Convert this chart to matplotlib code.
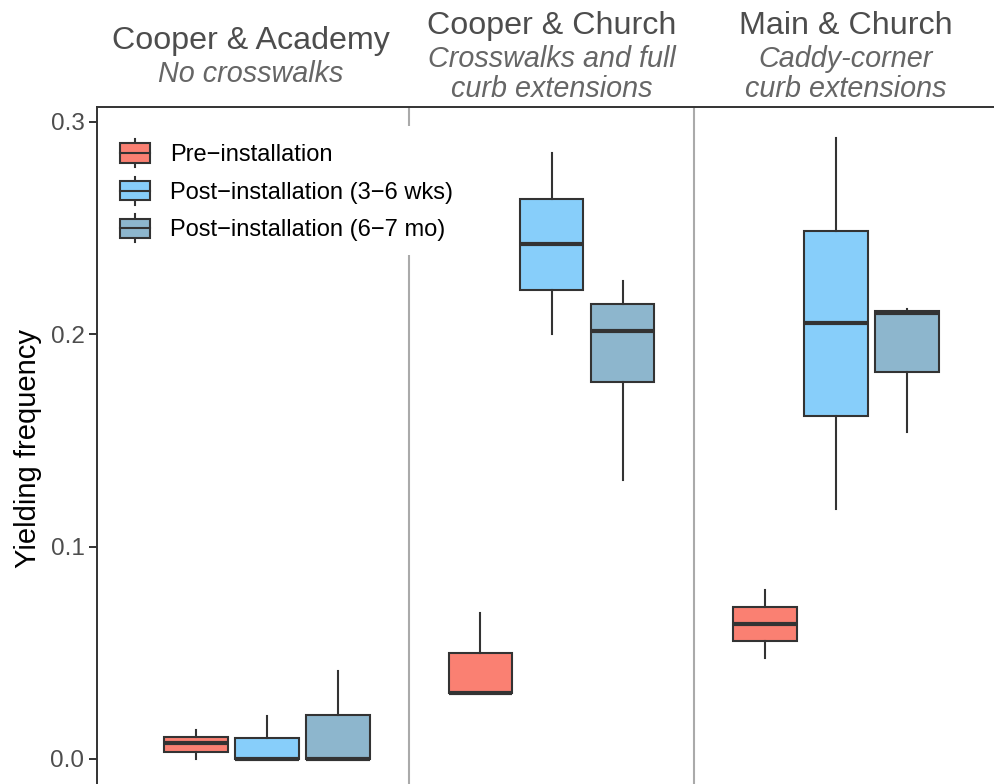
import matplotlib
matplotlib.use("Agg")
import matplotlib.pyplot as plt
from matplotlib.patches import Patch, Rectangle
from matplotlib.lines import Line2D
from matplotlib.legend_handler import HandlerBase

plt.rcParams['font.family'] = ['Liberation Sans', 'DejaVu Sans']

# ---------------- data ----------------
sites = ["Cooper & Academy", "Cooper & Church", "Main & Church"]
subtitles = ["No crosswalks", "Crosswalks and full\ncurb extensions", "Caddy-corner\ncurb extensions"]
phases = ["Pre\u2212installation", "Post\u2212installation (3\u22126 wks)", "Post\u2212installation (6\u22127 mo)"]
phase_colors = ["#FA8072", "#87CEFA", "#8DB6CD"]

# five-number summaries, order: site-major, phase-minor
whisker_low  = [0.0000, 0.0000, 0.0000,   0.0309, 0.2000, 0.1314,   0.0474, 0.1176, 0.1539]
quart_1      = [0.0032, 0.0000, 0.0000,   0.0309, 0.2209, 0.1776,   0.0554, 0.1614, 0.1820]
median       = [0.0074, 0.0000, 0.0000,   0.0309, 0.2426, 0.2017,   0.0636, 0.2052, 0.2102]
quart_3      = [0.0105, 0.0100, 0.0207,   0.0501, 0.2639, 0.2142,   0.0717, 0.2488, 0.2110]
whisker_high = [0.0137, 0.0203, 0.0415,   0.0686, 0.2853, 0.2252,   0.0796, 0.2924, 0.2118]

yticks = [0.0, 0.1, 0.2, 0.3]
ytick_labels = ["0.0", "0.1", "0.2", "0.3"]

# ---------------- style ----------------
EDGE = "#333333"
W, H = 995, 784
fig = plt.figure(figsize=(W / 100, H / 100), dpi=100)
ax_left, ax_right, ax_top, ax_bottom = 97, 1006, 107, 790
ax = fig.add_axes([ax_left / W, 1 - ax_bottom / H, (ax_right - ax_left) / W, (ax_bottom - ax_top) / H])

dodge = 0.25
box_w = 0.225
for i in range(len(sites)):
    for j in range(len(phases)):
        k = i * len(phases) + j
        stats = [dict(whislo=whisker_low[k], q1=quart_1[k], med=median[k],
                      q3=quart_3[k], whishi=whisker_high[k], fliers=[])]
        ax.bxp(stats, positions=[i + (j - 1) * dodge], widths=box_w,
               patch_artist=True, showcaps=False, showfliers=False,
               manage_ticks=False,
               boxprops=dict(facecolor=phase_colors[j], edgecolor=EDGE, linewidth=1.5),
               medianprops=dict(color=EDGE, linewidth=3.0, solid_capstyle='butt'),
               whiskerprops=dict(color=EDGE, linewidth=1.5))

for xs in [0.5, 1.5]:
    ax.axvline(xs, color="#AAAAAA", lw=1.5, zorder=0)

ax.set_xlim(-0.6, 2.6)
ax.set_ylim(-0.0146, 0.307)
ax.set_xticks([])
ax.set_yticks(yticks)
ax.set_yticklabels(ytick_labels)
ax.tick_params(axis='y', length=6, width=1.4, color=EDGE, labelcolor="#4D4D4D",
               labelsize=17.5, pad=3)
for s in ["right", "bottom"]:
    ax.spines[s].set_visible(False)
for s in ["top", "left"]:
    ax.spines[s].set_color(EDGE)
    ax.spines[s].set_linewidth(1.4)
ax.set_ylabel("Yielding frequency", fontsize=21, color="black", labelpad=6)

# ---------------- headers ----------------
header_x_px = [251, 552, 846]
for i, (site, sub) in enumerate(zip(sites, subtitles)):
    sub_lines = sub.split("\n")
    offsets = [0] + [33 + 30 * n for n in range(len(sub_lines))]
    shift = 65.5 - (offsets[0] + offsets[-1]) / 2
    fig.text(header_x_px[i] / W, 1 - (offsets[0] + shift) / H, site, ha='center',
             va='baseline', fontsize=23.2, color="#4D4D4D")
    for n, line in enumerate(sub_lines):
        fig.text(header_x_px[i] / W, 1 - (offsets[n + 1] + shift) / H, line, ha='center',
                 va='baseline', fontsize=20.7, color="#666666", style='italic')

# ---------------- legend ----------------
class BoxHandler(HandlerBase):
    def create_artists(self, legend, orig_handle, xdescent, ydescent, width, height,
                       fontsize, trans):
        x0, y0 = -xdescent, -ydescent
        cx = x0 + width / 2
        bh = height * 0.68
        by = y0 + (height - bh) / 2
        wl = Line2D([cx, cx], [y0, y0 + height], color=EDGE, lw=1.5, transform=trans)
        rect = Rectangle((x0, by), width, bh, facecolor=orig_handle.get_facecolor(),
                         edgecolor=EDGE, lw=1.5, transform=trans)
        med = Line2D([x0, x0 + width], [by + bh / 2] * 2, color=EDGE, lw=1.5,
                     transform=trans)
        return [wl, rect, med]

handles = [Patch(facecolor=c) for c in phase_colors]
leg = ax.legend(handles, phases, handler_map={Patch: BoxHandler()},
                loc='upper left', bbox_to_anchor=(107 / W, 1 - 126 / H),
                bbox_transform=fig.transFigure, borderaxespad=0, borderpad=0.55,
                fontsize=17, handlelength=1.27, handleheight=1.45,
                labelspacing=0.41, handletextpad=0.85, frameon=True,
                fancybox=False, framealpha=1, facecolor='white', edgecolor='none')
leg.set_zorder(5)

fig.savefig("out.png", dpi=100)
